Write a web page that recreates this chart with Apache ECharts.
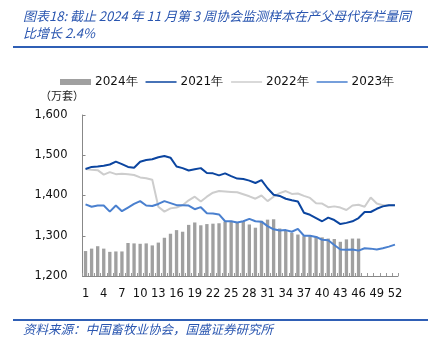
<!DOCTYPE html>
<html>
<head>
<meta charset="utf-8">
<script src="https://cdn.jsdelivr.net/npm/echarts@6/dist/echarts.min.js"></script>
<style>
html,body{margin:0;padding:0;background:#fff;}
#c{width:446px;height:345px;}
</style>
</head>
<body>
<div id="c"></div>
<script>
const weeks = Array.from({length: 52}, (_, i) => String(i + 1));
const seriesNames = ['2024年', '2021年', '2022年', '2023年'];
const yTicks = [1200, 1300, 1400, 1500, 1600];
const v2024 = [1262,1268,1274,1268,1260,1261,1261,1282,1281,1280,1281,1276,1283,1295,1305,1314,1310,1327,1333,1326,1329,1330,1331,1335,1337,1333,1336,1328,1320,1337,1340,1341,1318,1313,1307,1303,1299,1299,1298,1296,1293,1292,1285,1291,1293,1293];
const v2021 = [1466,1471,1472,1474,1477,1484,1478,1471,1469,1484,1488,1490,1495,1498,1494,1472,1468,1462,1465,1468,1456,1455,1450,1455,1448,1442,1441,1437,1431,1438,1418,1402,1399,1392,1388,1385,1357,1352,1344,1336,1345,1339,1329,1332,1336,1344,1359,1359,1367,1373,1376,1376];
const v2022 = [1466,1464,1463,1452,1458,1453,1454,1453,1451,1445,1443,1439,1372,1360,1368,1370,1376,1388,1397,1385,1397,1407,1411,1410,1409,1408,1403,1398,1392,1400,1386,1397,1406,1411,1404,1405,1399,1394,1381,1380,1371,1373,1370,1364,1375,1377,1372,1395,1380,1376,1376,1376];
const v2023 = [1378,1372,1375,1375,1360,1375,1361,1370,1379,1386,1375,1374,1379,1386,1381,1376,1376,1375,1366,1371,1356,1355,1353,1336,1336,1333,1336,1342,1336,1335,1324,1316,1313,1314,1310,1317,1300,1300,1297,1290,1289,1277,1266,1265,1266,1263,1269,1268,1266,1269,1273,1278];
const titleLine1 = '图表18: 截止 2024 年 11 月第 3 周协会监测样本在产父母代存栏量同';
const titleLine2 = '比增长 2.4%';
const unitLabel = '（万套）';
const sourceText = '资料来源：中国畜牧业协会，国盛证券研究所';

const blue = '#2a56b0';
const colors = {'2024年': '#a0a0a0', '2021年': '#0b45a0', '2022年': '#cdcdcd', '2023年': '#4a80cf'};
const font = 'DejaVu Sans';
const lineIcon = 'path://M0 0L0.01 0M0 2.2H31V3.8H0ZM0 6L0.01 6';

const chart = echarts.init(document.getElementById('c'), null, {renderer: 'canvas'});
chart.setOption({
  animation: false,
  backgroundColor: '#fff',
  graphic: [
    {type: 'text', left: 23, top: 10, style: {text: titleLine1, fill: blue, font: 'italic 13px "Noto Sans CJK SC"'}},
    {type: 'text', left: 23, top: 27, style: {text: titleLine2, fill: blue, font: 'italic 13px "Noto Sans CJK SC"'}},
    {type: 'line', shape: {x1: 13, y1: 47, x2: 428, y2: 47}, style: {stroke: '#2f5fb5', lineWidth: 2}},
    {type: 'text', left: 40, top: 90, style: {text: unitLabel, fill: '#222', font: '11px "Noto Sans CJK SC"'}},
    {type: 'line', shape: {x1: 13, y1: 320, x2: 428, y2: 320}, style: {stroke: '#2f5fb5', lineWidth: 2}},
    {type: 'text', left: 23, top: 323, style: {text: sourceText, fill: blue, font: 'italic 12.5px "Noto Sans CJK SC"'}}
  ],
  legend: {
    left: 60, top: 76, padding: 0,
    itemGap: 8,
    itemWidth: 31, itemHeight: 6,
    textStyle: {fontFamily: font, fontSize: 12, color: '#111', padding: [0, 0, 0, -1]},
    data: [
      {name: '2024年', icon: 'rect'},
      {name: '2021年', icon: lineIcon}, {name: '2022年', icon: lineIcon}, {name: '2023年', icon: lineIcon}
    ]
  },
  grid: {left: 82.5, right: 48, top: 115, bottom: 69, containLabel: false},
  xAxis: {
    type: 'category',
    data: weeks,
    boundaryGap: true,
    axisLine: {lineStyle: {color: '#888', width: 1}},
    axisTick: {show: true, inside: true, length: 3, interval: 0, lineStyle: {color: '#999'}},
    axisLabel: {interval: 2, color: '#111', fontFamily: font, fontSize: 11.5, margin: 12}
  },
  yAxis: {
    type: 'value',
    min: yTicks[0], max: yTicks[yTicks.length - 1], interval: 100,
    axisLine: {show: true, lineStyle: {color: '#888', width: 1}},
    axisTick: {show: true, inside: true, length: 3, lineStyle: {color: '#888'}},
    splitLine: {show: false},
    axisLabel: {color: '#111', fontFamily: font, fontSize: 11.5, margin: 15,
      formatter: v => v.toLocaleString('en-US')}
  },
  series: [
    {name: '2024年', type: 'bar', data: v2024, barWidth: '55%', itemStyle: {color: colors['2024年']}},
    {name: '2022年', type: 'line', data: v2022, symbol: 'none', lineStyle: {width: 2, color: colors['2022年']}, itemStyle: {color: colors['2022年']}},
    {name: '2023年', type: 'line', data: v2023, symbol: 'none', lineStyle: {width: 2, color: colors['2023年']}, itemStyle: {color: colors['2023年']}},
    {name: '2021年', type: 'line', data: v2021, symbol: 'none', lineStyle: {width: 2, color: colors['2021年']}, itemStyle: {color: colors['2021年']}}
  ]
});
</script>
</body>
</html>
